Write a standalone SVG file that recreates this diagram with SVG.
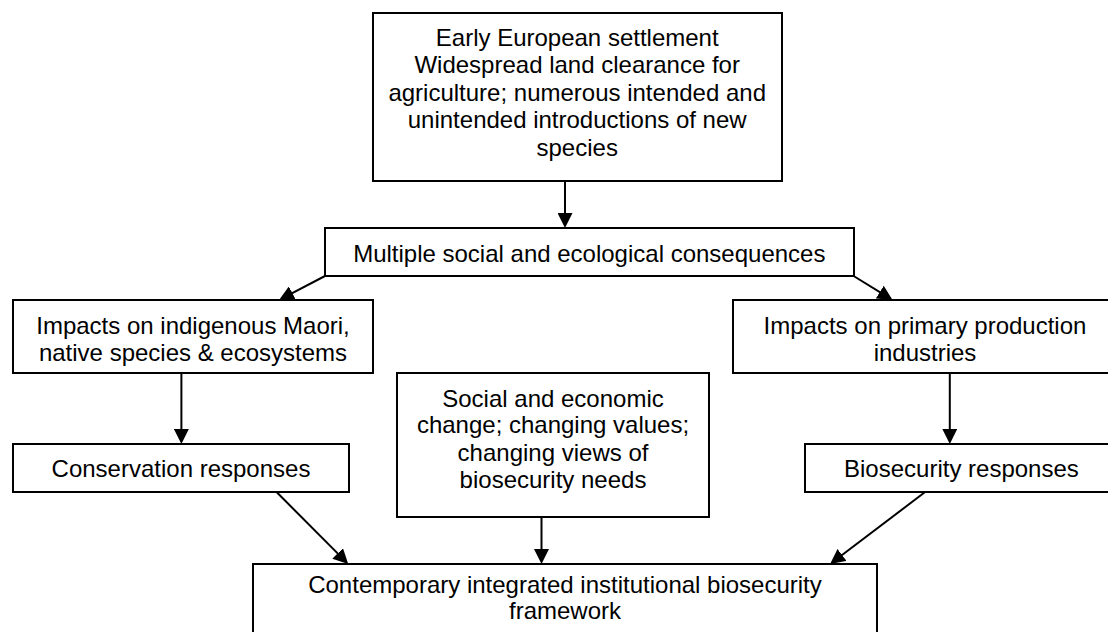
<svg xmlns="http://www.w3.org/2000/svg" width="1108" height="632" viewBox="0 0 1108 632">
<style>
.box{fill:#fff;stroke:#000;stroke-width:2}
.lbl{font-family:"Liberation Sans",Arial,sans-serif;font-size:24px;fill:#000;text-anchor:middle}
.con{stroke:#000;stroke-width:2;fill:none;marker-end:url(#ah)}
</style>
<defs>
<marker id="ah" markerUnits="userSpaceOnUse" markerWidth="15" markerHeight="15" viewBox="0 0 15 15" refX="12" refY="7.5" orient="auto">
<path d="M0,0 L15,7.5 L0,15 Z" fill="#000"/>
</marker>
</defs>
<rect width="1108" height="632" fill="#fff"/>
<g id="connectors">
<line class="con" x1="565" y1="181" x2="565" y2="225"/>
<line class="con" x1="325" y1="276" x2="281.7" y2="298.6"/>
<line class="con" x1="853.6" y1="276" x2="890" y2="298.4"/>
<line class="con" x1="181.4" y1="373" x2="181.4" y2="441"/>
<line class="con" x1="949.8" y1="373" x2="949.8" y2="441"/>
<line class="con" x1="276.8" y1="492.3" x2="346.1" y2="561.9"/>
<line class="con" x1="541.5" y1="517" x2="541.5" y2="561"/>
<line class="con" x1="924.8" y1="492.3" x2="832.5" y2="562.2"/>
</g>
<g id="early-settlement">
<rect class="box" x="373" y="13" width="409" height="168"/>
<text class="lbl" x="577.2" y="46">Early European settlement</text>
<text class="lbl" x="577.2" y="73.3">Widespread land clearance for</text>
<text class="lbl" x="577.2" y="101">agriculture; numerous intended and</text>
<text class="lbl" x="577.2" y="128.3">unintended introductions of new</text>
<text class="lbl" x="577.2" y="155.7">species</text>
</g>
<g id="consequences">
<rect class="box" x="325" y="228" width="529" height="48"/>
<text class="lbl" x="589.3" y="261.7">Multiple social and ecological consequences</text>
</g>
<g id="impacts-maori">
<rect class="box" x="13" y="300" width="360" height="73"/>
<text class="lbl" x="193" y="334">Impacts on indigenous Maori,</text>
<text class="lbl" x="193" y="360.7">native species &amp; ecosystems</text>
</g>
<g id="impacts-primary">
<rect class="box" x="733" y="300" width="385" height="73"/>
<text class="lbl" x="925" y="334">Impacts on primary production</text>
<text class="lbl" x="925" y="360.7">industries</text>
</g>
<g id="social-change">
<rect class="box" x="397" y="373" width="312" height="144"/>
<text class="lbl" x="553" y="406.7">Social and economic</text>
<text class="lbl" x="553" y="433.3">change; changing values;</text>
<text class="lbl" x="553" y="460.7">changing views of</text>
<text class="lbl" x="553" y="488.3">biosecurity needs</text>
</g>
<g id="conservation">
<rect class="box" x="13" y="444" width="336" height="48"/>
<text class="lbl" x="181" y="477.3">Conservation responses</text>
</g>
<g id="biosecurity">
<rect class="box" x="805" y="444" width="313" height="48"/>
<text class="lbl" x="961.4" y="477.3">Biosecurity responses</text>
</g>
<g id="framework">
<rect class="box" x="253" y="564" width="624" height="80"/>
<text class="lbl" x="565" y="592.7">Contemporary integrated institutional biosecurity</text>
<text class="lbl" x="565" y="619">framework</text>
</g>
</svg>
